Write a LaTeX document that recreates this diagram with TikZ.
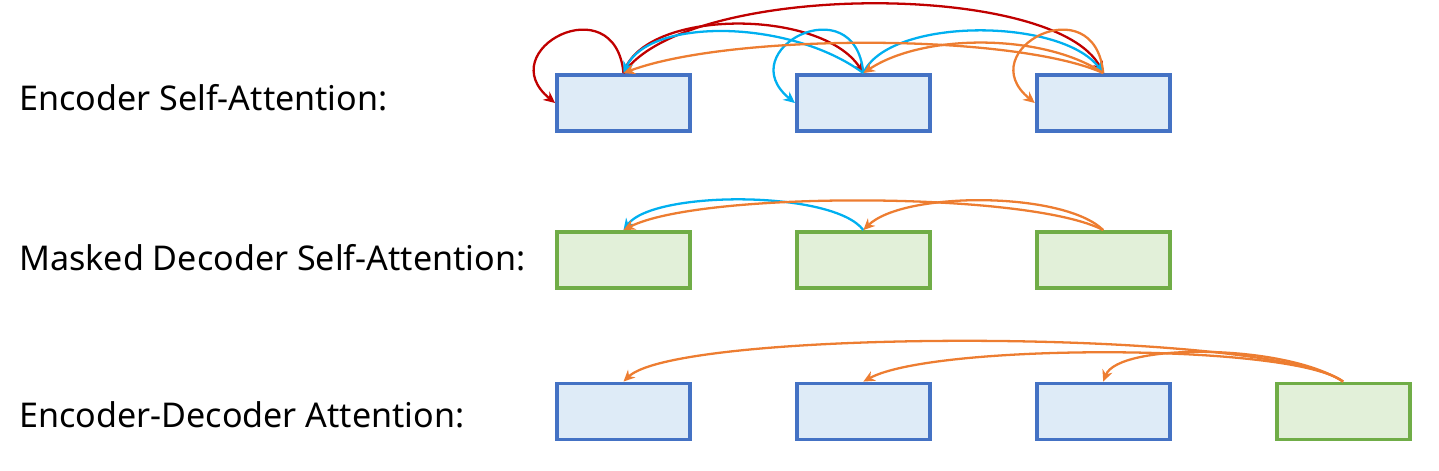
\documentclass[tikz,border=0pt]{standalone}
\usepackage{fontspec}
\setmainfont{Noto Sans}
\usetikzlibrary{arrows.meta,positioning}
\definecolor{encborder}{RGB}{68,114,196}
\definecolor{encfill}{RGB}{222,235,247}
\definecolor{decborder}{RGB}{112,173,71}
\definecolor{decfill}{RGB}{226,240,217}
\definecolor{attred}{RGB}{192,0,0}
\definecolor{attblue}{RGB}{0,176,240}
\definecolor{attorange}{RGB}{237,125,49}
\tikzset{
	encbox/.style={
		rectangle,
		line width=2.2pt,
		draw=encborder,
		fill=encfill,
		minimum width=2.66cm,
		minimum height=1.12cm,
		inner sep=0pt
	},
	decbox/.style={
		encbox,
		draw=decborder,
		fill=decfill
	},
	rowlabel/.style={
		anchor=base west,
		inner sep=0pt,
		font=\fontsize{19.4}{22}\selectfont
	},
	attn/.style={
		line width=1.3pt,
		->,
		>={Stealth[length=6.5pt,width=6pt]}
	},
	redarrow/.style={
		attn,
		draw=attred
	},
	bluearrow/.style={
		attn,
		draw=attblue
	},
	orangearrow/.style={
		attn,
		draw=attorange
	},
}

\begin{document}
\begin{tikzpicture}[node distance=2.06cm]
\useasboundingbox (0,0) rectangle (28.78,9.4);

\node [rowlabel] (l1) at (0.38,7.2) {Encoder Self-Attention:};
\node [rowlabel] (l2) at (0.38,4.0) {Masked Decoder Self-Attention:};
\node [rowlabel] (l3) at (0.38,0.86) {Encoder-Decoder Attention:};

% encoder self-attention
\node [encbox] (e1) at (12.47,7.34) {};
\node [encbox] (e2) [right=of e1] {};
\node [encbox] (e3) [right=of e2] {};

% masked decoder self-attention
\node [decbox] (d1) at (12.47,4.2) {};
\node [decbox] (d2) [right=of d1] {};
\node [decbox] (d3) [right=of d2] {};

% encoder-decoder attention
\node [encbox] (x1) at (12.47,1.17) {};
\node [encbox] (x2) [right=of x1] {};
\node [encbox] (x3) [right=of x2] {};
\node [decbox] (x4) [right=of x3] {};

\draw[redarrow] (e1.north) .. controls +(-0.17,1.76) and +(-1.3,1.06) .. (e1.west);
\draw[redarrow] (e1.north) .. controls +(0.4,1.3) and +(-0.85,1.3) .. (e2.north);
\draw[redarrow] (e1.north) .. controls +(1.3,1.84) and +(-0.95,1.84) .. (e3.north);
\draw[bluearrow] (e2.north) .. controls +(-1.5,1.1) and +(0.5,1.1) .. (e1.north);
\draw[bluearrow] (e2.north) .. controls +(-0.17,1.76) and +(-1.3,1.06) .. (e2.west);
\draw[bluearrow] (e2.north) .. controls +(0.5,1.12) and +(-0.85,1.12) .. (e3.north);
\draw[orangearrow] (e3.north) .. controls +(-1.8,0.8) and +(2.15,0.8) .. (e1.north);
\draw[orangearrow] (e3.north) .. controls +(-1.2,0.8) and +(1.2,0.8) .. (e2.north);
\draw[orangearrow] (e3.north) .. controls +(-0.17,1.76) and +(-1.3,1.06) .. (e3.west);

\draw[bluearrow] (d2.north) .. controls +(-0.6,0.8) and +(0.6,0.8) .. (d1.north);
\draw[orangearrow] (d3.north) .. controls +(-1.5,0.78) and +(1.5,0.78) .. (d1.north);
\draw[orangearrow] (d3.north) .. controls +(-0.8,0.78) and +(0.8,0.78) .. (d2.north);

\draw[orangearrow] (x4.north) .. controls +(-1.5,1.07) and +(1.1,1.07) .. (x1.north);
\draw[orangearrow] (x4.north) .. controls +(-1.0,0.77) and +(1.4,0.77) .. (x2.north);
\draw[orangearrow] (x4.north) .. controls +(-1.2,0.77) and +(0.3,0.77) .. (x3.north);
\end{tikzpicture}
\end{document}
